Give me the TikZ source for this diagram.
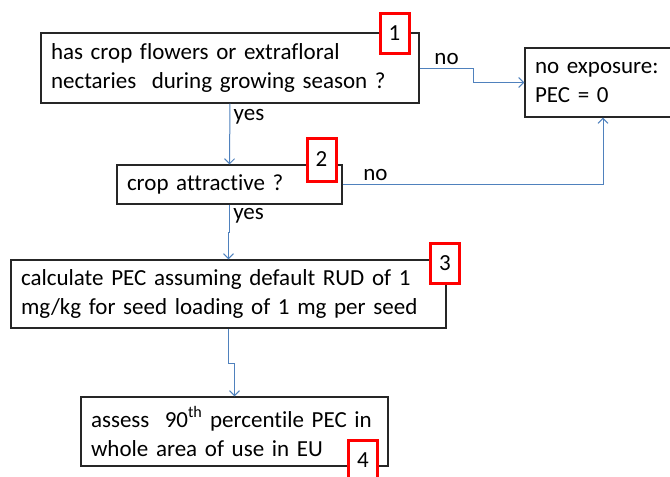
\documentclass[tikz,border=0pt]{standalone}
\usepackage{fontspec}
\setmainfont{Carlito}[Ligatures=NoCommon, WordSpace=0.8]
\usetikzlibrary{arrows.meta}
\definecolor{linkblue}{RGB}{79,129,189}
\tikzset{
  stepbox/.style={draw=black!85, line width=1.2pt, align=left, inner xsep=10pt, inner ysep=0pt},
  numbox/.style={draw=red, line width=3pt, fill=white, minimum width=29pt, minimum height=40pt, inner sep=0pt},
  flowline/.style={draw=linkblue, line width=1pt, -{Straight Barb[length=5pt,width=10pt]}}
}

\begin{document}
\begin{tikzpicture}[x=1pt, y=-1pt, font=\fontsize{23}{29}\selectfont]
    \useasboundingbox (0,0) rectangle (670,477);
    \clip (0,0) rectangle (670,477);

    % Decision and result boxes
    \node[stepbox, text width=358pt, minimum height=70pt] (flowers) at (230,68) {has crop flowers or extrafloral\\nectaries\ \ during growing season ?};
    \node[stepbox, text width=136pt, minimum height=69pt] (noexp) at (603,82.5) {no exposure:\\PEC = 0};
    \node[stepbox, text width=205pt, minimum height=39pt] (attract) at (229.5,184.5) {crop attractive ?};
    \node[stepbox, text width=415pt, minimum height=68pt] (calc) at (228.5,294) {calculate PEC assuming default RUD of 1\\mg/kg for seed loading of 1 mg per seed};
    \node[stepbox, text width=287pt, minimum height=69pt] (assess) at (234.5,431.5) {assess\ \ 90\textsuperscript{th} percentile PEC in\\whole area of use in EU};

    % Step numbers
    \node[numbox] (n1) at (394.5,33.5) {1};
    \node[numbox, minimum height=43pt] (n2) at (321.5,159.5) {2};
    \node[numbox] (n3) at (445,263) {3};
    \node[numbox] (n4) at (363,460) {4};

    % Connectors
    \draw[flowline] (flowers.east) -- node[above] {no} ++(54,0) |- (noexp.west);
    \draw[flowline] (attract.east) -| node[above, pos=0.063] {no} (noexp.south);
    \draw[flowline] (flowers.south) -- node[right, pos=0.22] {yes} (attract.north);
    \draw[flowline] (attract.south) -- node[right, pos=0.4] {yes} ++(0,28) -| (calc.north);
    \draw[flowline] (calc.south) -- ++(0,35) -| (assess.north);

\end{tikzpicture}
\end{document}
